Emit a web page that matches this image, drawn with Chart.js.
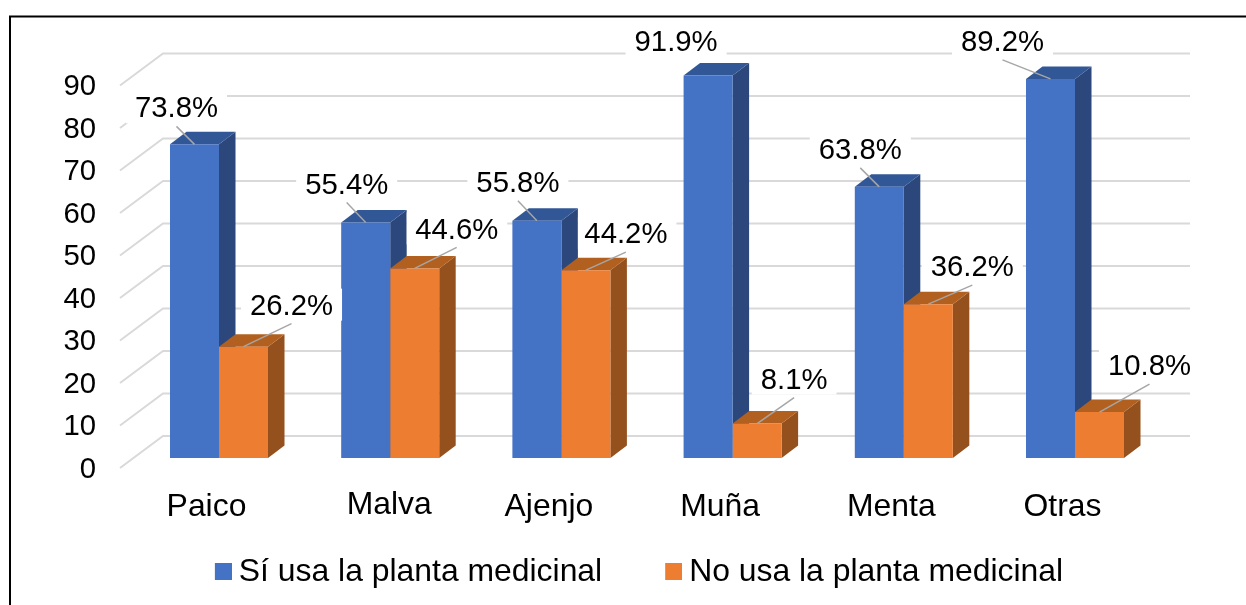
<!DOCTYPE html>
<html>
<head>
<meta charset="utf-8">
<style>
    html, body { margin: 0; padding: 0; background: #fff; }
    canvas { display: block; }
</style>
<script src="https://cdn.jsdelivr.net/npm/chart.js@4"></script>
</head>
<body>
<canvas id="bar-chart" width="1246" height="605"></canvas>
<script>
    "use strict";

    const categories = ['Paico', 'Malva', 'Ajenjo', 'Muña', 'Menta', 'Otras'];
    const siUsa = [73.8, 55.4, 55.8, 91.9, 63.8, 89.2];
    const noUsa = [26.2, 44.6, 44.2, 8.1, 36.2, 10.8];
    const seriesNames = ['Sí usa la planta medicinal', 'No usa la planta medicinal'];

    // where each percent label sits, relative to the top centre of its bar
    const labelShift = [
        [[-18, -37], [-19, -39], [-19, -39], [-32, -35], [-19, -38], [-48, -38]],
        [[48, -42], [42, -40], [40, -37], [37, -45], [44, -38], [50, -47]]
    ];
    // the hand placed category labels of the original
    const categoryNudge = [[0, 0], [11.5, -2], [0, 0], [0, 0], [0, 0], [0, 0]];

    const FONT = '"Liberation Sans", Arial, sans-serif';
    const FONT_SIZE = 29.3;
    const BIG_FONT_SIZE = 31.9;
    const front = ['#4472C4', '#ED7D31'];
    const side = ['#2B477C', '#94501D'];
    const top3d = ['#325796', '#B2601F'];
    const DEPTH_X = 16.5, DEPTH_Y = 12.5;

    // small square for the legend, the text gap of the normal box is too wide
    function swatch(color) {
        const c = document.createElement('canvas');
        c.width = 19;
        c.height = 17;
        const g = c.getContext('2d');
        g.fillStyle = color;
        g.fillRect(2, 0, 17, 17);
        return c;
    }
    const swatches = front.map(swatch);

    function poly(ctx, color, pts) {
        ctx.fillStyle = color;
        ctx.beginPath();
        pts.forEach((p, i) => i ? ctx.lineTo(p[0], p[1]) : ctx.moveTo(p[0], p[1]));
        ctx.closePath();
        ctx.fill();
    }

    const bars3d = {
        id: 'bars3d',
        afterLayout(chart) {
            // the legend sits lower than the layout wants, the category labels keep their room
            chart.scales.x.bottom = 540;
            chart.scales.x.getLabelItems().forEach((item, i) => {
                item.options.translation[0] += categoryNudge[i][0];
                item.options.translation[1] += categoryNudge[i][1];
            });
            chart.legend.left = 39;
            chart.legend.right = 1246;
            chart.legend.top = 486;
        },
        beforeDraw(chart) {
            const ctx = chart.ctx;
            ctx.save();
            // frame of the pasted picture
            ctx.strokeStyle = '#000';
            ctx.lineWidth = 2;
            ctx.beginPath();
            ctx.moveTo(10, 605);
            ctx.lineTo(10, 16.5);
            ctx.lineTo(1246, 16.5);
            ctx.stroke();
            ctx.restore();
        },
        beforeDatasetsDraw(chart) {
            const ctx = chart.ctx;
            const area = chart.chartArea;
            const y = chart.scales.y;
            ctx.save();
            // floor and back wall lines
            ctx.strokeStyle = '#D9D9D9';
            ctx.lineWidth = 2;
            y.ticks.forEach(t => {
                const py = y.getPixelForValue(t.value);
                ctx.beginPath();
                ctx.moveTo(area.left - 13.4, py + 10);
                ctx.lineTo(area.left + 29.6, py - 22);
                ctx.lineTo(area.right + 29.4, py - 22);
                ctx.stroke();
            });
            // side and top faces, the fronts come from the bars themselves
            chart.data.datasets.forEach((ds, d) => {
                chart.getDatasetMeta(d).data.forEach(bar => {
                    const l = bar.x - bar.width / 2, r = bar.x + bar.width / 2;
                    const t = Math.max(bar.y, area.top);
                    poly(ctx, side[d], [[r, t], [r + DEPTH_X, t - DEPTH_Y], [r + DEPTH_X, bar.base - DEPTH_Y], [r, bar.base]]);
                    poly(ctx, top3d[d], [[l, t], [l + DEPTH_X, t - DEPTH_Y], [r + DEPTH_X, t - DEPTH_Y], [r, t]]);
                });
            });
            ctx.restore();
        },
        afterDatasetsDraw(chart) {
            const ctx = chart.ctx;
            const area = chart.chartArea;
            ctx.save();
            ctx.font = FONT_SIZE + 'px ' + FONT;
            ctx.textAlign = 'center';
            ctx.textBaseline = 'middle';
            chart.data.datasets.forEach((ds, d) => {
                chart.getDatasetMeta(d).data.forEach((bar, i) => {
                    const t = Math.max(bar.y, area.top);
                    const lx = bar.x + labelShift[d][i][0], ly = t + labelShift[d][i][1];
                    const text = ds.data[i].toFixed(1) + '%';
                    const half = ctx.measureText(text).width / 2 + 9;
                    // the white box stops at the side face of the bar next to it
                    const boxLeft = d ? Math.max(lx - half, bar.x - bar.width / 2 + DEPTH_X) : lx - half;
                    ctx.fillStyle = '#fff';
                    ctx.fillRect(boxLeft, ly - 16, lx + half - boxLeft, 32);
                    // the clipped bar has no leader line
                    if (bar.y >= area.top) {
                        ctx.strokeStyle = '#A6A6A6';
                        ctx.lineWidth = 1.5;
                        ctx.beginPath();
                        ctx.moveTo(lx, ly + 19);
                        ctx.lineTo(bar.x, t);
                        ctx.stroke();
                    }
                    ctx.fillStyle = '#000';
                    ctx.fillText(text, lx, ly + 2);
                });
            });
            ctx.restore();
        }
    };

    new Chart(document.getElementById('bar-chart'), {
        type: 'bar',
        data: {
            labels: categories,
            datasets: [
                { label: seriesNames[0], data: siUsa, backgroundColor: front[0], borderWidth: 0 },
                { label: seriesNames[1], data: noUsa, backgroundColor: front[1], borderWidth: 0 }
            ]
        },
        options: {
            responsive: false,
            animation: false,
            devicePixelRatio: 1,
            layout: { padding: { left: 0, right: 85.4, top: 75.5, bottom: 0 } },
            datasets: { bar: { categoryPercentage: 0.5725, barPercentage: 1 } },
            plugins: {
                tooltip: { enabled: false },
                legend: {
                    position: 'bottom',
                    labels: {
                        usePointStyle: true,
                        boxWidth: 1,
                        boxHeight: 17,
                        padding: 70,
                        color: '#000',
                        font: { family: FONT, size: BIG_FONT_SIZE },
                        generateLabels: chart => Chart.defaults.plugins.legend.labels.generateLabels(chart)
                            .map((item, i) => Object.assign(item, { pointStyle: swatches[i] }))
                    }
                }
            },
            scales: {
                x: {
                    grid: { display: false },
                    border: { display: false },
                    afterFit: s => { s.height = 605 - 458 - s.chart.legend.height; },
                    ticks: {
                        autoSkip: false,
                        maxRotation: 0,
                        padding: 22,
                        labelOffset: -12.5,
                        color: '#000',
                        font: { family: FONT, size: BIG_FONT_SIZE }
                    }
                },
                y: {
                    min: 0,
                    max: 90,
                    grid: { display: false },
                    border: { display: false },
                    afterFit: s => { s.width = 133.4; },
                    ticks: {
                        stepSize: 10,
                        padding: 29.4,
                        labelOffset: 11.5,
                        color: '#000',
                        font: { family: FONT, size: FONT_SIZE }
                    }
                }
            }
        },
        plugins: [bars3d]
    });
</script>
</body>
</html>
